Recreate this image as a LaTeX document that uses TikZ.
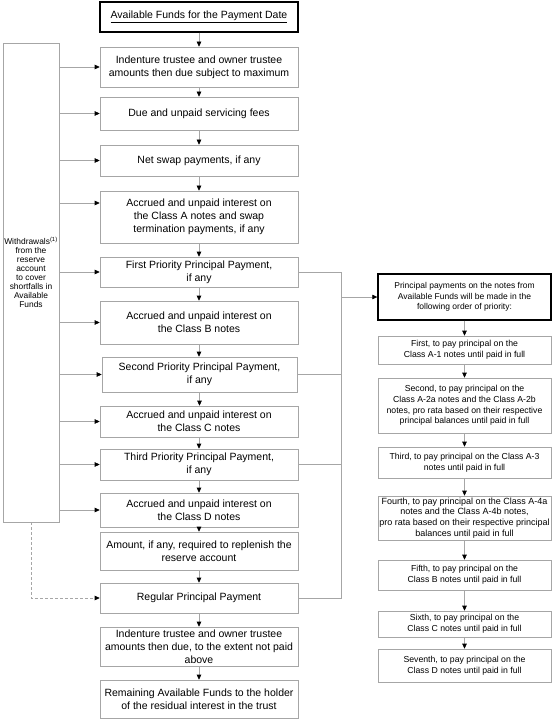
\documentclass[tikz,border=0pt]{standalone}
\usepackage{fontspec}
\setmainfont{Liberation Sans}
\usetikzlibrary{arrows.meta}

\begin{document}
\begin{tikzpicture}[x=1pt,y=-1pt,
    stepbox/.style={draw=gray!70, line width=0.6pt, minimum width=198pt, inner sep=0pt,
      align=center, font=\fontsize{10.5}{13.2}\selectfont},
    headbox/.style={stepbox, draw=black, line width=1.4pt},
    rulebox/.style={draw=gray!70, line width=0.6pt, minimum width=173pt, inner sep=0pt,
      align=center, font=\fontsize{8.7}{10.7}\selectfont},
    orderbox/.style={rulebox, draw=black, line width=1.4pt, font=\fontsize{8.5}{10.7}\selectfont},
    flow/.style={draw=gray!70, line width=0.6pt, -{Triangle[length=5pt,width=4.5pt,color=black]}},
    link/.style={draw=gray!70, line width=0.6pt}]
    \useasboundingbox (0,0) rectangle (552,719);

    % payment waterfall
    \node[headbox, minimum height=30pt] (avail) at (199,17) {\underline{Available Funds for the Payment Date}};
    \node[stepbox, minimum height=40pt] (trustee) at (199,67) {Indenture trustee and owner trustee\\amounts then due subject to maximum};
    \node[stepbox, minimum height=33pt] (servicing) at (199,113.5) {Due and unpaid servicing fees};
    \node[stepbox, minimum height=31pt] (swap) at (199,160.5) {Net swap payments, if any};
    \node[stepbox, minimum height=52pt] (intA) at (199,217) {Accrued and unpaid interest on\\the Class A notes and swap\\termination payments, if any};
    \node[stepbox, minimum height=30pt] (firstPP) at (199,272) {First Priority Principal Payment,\\if any};
    \node[stepbox, minimum height=43pt] (intB) at (199,322.5) {Accrued and unpaid interest on\\the Class B notes};
    \node[stepbox, minimum height=35pt, minimum width=195pt] (secondPP) at (199.5,374.5) {Second Priority Principal Payment,\\if any};
    \node[stepbox, minimum height=31pt] (intC) at (199,421.5) {Accrued and unpaid interest on\\the Class C notes};
    \node[stepbox, minimum height=31pt] (thirdPP) at (199,464.5) {Third Priority Principal Payment,\\if any};
    \node[stepbox, minimum height=34pt] (intD) at (199,510) {Accrued and unpaid interest on\\the Class D notes};
    \node[stepbox, minimum height=38pt] (replenish) at (199,551) {Amount, if any, required to replenish the\\reserve account};
    \node[stepbox, minimum height=30pt] (regular) at (199,598) {Regular Principal Payment};
    \node[stepbox, minimum height=39pt] (trustee2) at (199,646.5) {Indenture trustee and owner trustee\\amounts then due, to the extent not paid\\above};
    \node[stepbox, minimum height=38pt] (residual) at (199,699) {Remaining Available Funds to the holder\\of the residual interest in the trust};

    \foreach \a/\b in {avail/trustee, trustee/servicing, servicing/swap, swap/intA, intA/firstPP,
        firstPP/intB, intB/secondPP, secondPP/intC, intC/thirdPP, thirdPP/intD, intD/replenish,
        replenish/regular, regular/trustee2, trustee2/residual}
      \draw[flow] (\a.south) -- (\a.south |- \b.north);

    % reserve account
    \node[draw=gray!70, line width=0.6pt, inner sep=0pt, minimum width=56pt, minimum height=479pt] (reserve) at (31,282.5) {};
    \node[font=\fontsize{8.4}{9}\selectfont, align=center, inner sep=0pt] (withdraw) at (31,272)
      {Withdrawals\textsuperscript{(1)}\\from the\\reserve\\account\\to cover\\shortfalls in\\Available\\Funds};
    \foreach \b in {trustee, servicing, swap, firstPP, intB, secondPP, intC, thirdPP, intD}
      \draw[flow] (reserve.east |- \b.west) -- (\b.west);
    \coordinate (intAin) at ([yshift=14pt]intA.west);
    \draw[flow] (reserve.east |- intAin) -- (intAin);
    \draw[flow, dash pattern=on 3pt off 2pt] (reserve.south) |- (regular.west);

    % principal payments
    \node[orderbox, minimum height=46pt] (order) at (464.5,297) {Principal payments on the notes from\\Available Funds will be made in the\\following order of priority:};
    \node[rulebox, minimum height=28pt] (first) at (464.5,350) {First, to pay principal on the\\Class A-1 notes until paid in full};
    \node[rulebox, minimum height=55pt] (second) at (464.5,405.5) {Second, to pay principal on the\\Class A-2a notes and the Class A-2b\\notes, pro rata based on their respective\\principal balances until paid in full};
    \node[rulebox, minimum height=31pt] (third) at (464.5,462.5) {Third, to pay principal on the Class A-3\\notes until paid in full};
    \node[rulebox, minimum height=44pt, font=\fontsize{9}{10.7}\selectfont] (fourth) at (464.5,518) {Fourth, to pay principal on the Class A-4a\\notes and the Class A-4b notes,\\pro rata based on their respective principal\\balances until paid in full};
    \node[rulebox, minimum height=30pt] (fifth) at (464.5,575) {Fifth, to pay principal on the\\Class B notes until paid in full};
    \node[rulebox, minimum height=26pt] (sixth) at (464.5,624) {Sixth, to pay principal on the\\Class C notes until paid in full};
    \node[rulebox, minimum height=33pt] (seventh) at (464.5,665.5) {Seventh, to pay principal on the\\Class D notes until paid in full};

    \foreach \a/\b in {order/first, first/second, second/third, third/fourth, fourth/fifth,
        fifth/sixth, sixth/seventh}
      \draw[flow] (\a.south) -- (\b.north);

    \draw[link] (firstPP.east) -- ++(43,0) coordinate (bus) -- (bus |- regular.east) -- (regular.east);
    \draw[link] (secondPP.east) -- (secondPP.east -| bus);
    \draw[link] (thirdPP.east) -- (thirdPP.east -| bus);
    \draw[flow] (bus |- order.west) -- (order.west);
\end{tikzpicture}
\end{document}
